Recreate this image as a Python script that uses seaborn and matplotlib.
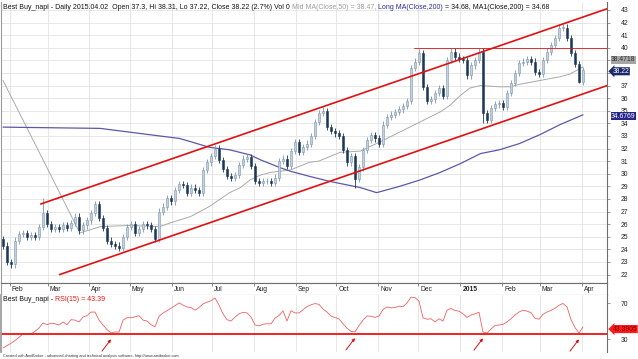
import pandas as pd
import numpy as np
import matplotlib
matplotlib.use('Agg')
import matplotlib.pyplot as plt
import seaborn as sns

# Best Buy daily chart, one candle per ~2 sessions (Jan 27 2014 -> Apr 2 2015)
close = [24.3, 23.0, 22.8, 24.7, 25.2, 25.3, 25.0, 25.1, 25.0, 25.8,
         26.9, 26.0, 25.6, 25.8, 25.6, 25.9, 25.7, 26.1, 26.6, 25.5,
         25.9, 26.3, 26.9, 27.6, 26.5, 25.7, 24.7, 24.4, 24.3, 24.1,
         25.0, 25.8, 26.0, 25.3, 25.6, 26.0, 25.9, 25.6, 24.8, 27.0,
         27.4, 28.1, 27.8, 28.7, 29.2, 29.1, 28.5, 28.9, 28.7, 28.5,
         30.3, 30.9, 31.4, 32.0, 31.1, 30.4, 29.8, 29.7, 29.9, 30.7,
         31.2, 31.3, 30.6, 29.4, 29.3, 29.4, 29.4, 29.3, 29.7, 31.0,
         31.2, 30.6, 31.8, 32.5, 31.7, 32.1, 32.4, 33.0, 34.1, 34.8,
         35.0, 33.7, 33.4, 33.2, 33.0, 31.9, 30.9, 31.4, 29.6, 30.5,
         31.9, 32.7, 33.1, 32.8, 32.4, 33.9, 34.5, 34.7, 34.9, 35.1,
         35.4, 35.8, 38.4, 38.9, 39.6, 36.9, 35.8, 35.9, 36.4, 36.8,
         36.2, 39.0, 39.7, 39.3, 39.1, 39.0, 37.8, 38.6, 39.0, 39.7,
         34.8, 34.3, 35.2, 35.5, 35.6, 35.3, 36.4, 37.2, 38.0, 38.8,
         38.9, 39.1, 38.9, 38.1, 37.9, 39.0, 39.7, 40.2, 40.8, 41.6,
         41.6, 40.8, 39.6, 38.7, 37.3, 38.22]
first_open = 24.8
spike_high = {10: 28.1, 80: 35.3, 104: 39.9, 112: 40.0, 140: 41.9}
spike_low = {88: 28.9, 120: 34.0, 144: 37.22}

rsi = [20.0, 22.6, 25.3, 28.3, 31.9, 35.6, 35.6, 35.8, 38.5, 42.3,
       47.8, 46.0, 47.6, 47.0, 45.5, 49.0, 46.0, 51.5, 51.0, 49.0,
       54.4, 56.0, 59.9, 60.0, 51.0, 45.6, 40.5, 36.7, 37.8, 37.8,
       51.0, 53.7, 53.7, 54.7, 56.0, 51.0, 50.0, 46.0, 43.5, 55.3,
       58.9, 61.5, 64.3, 67.0, 70.2, 67.7, 65.6, 65.0, 62.0, 65.0,
       69.0, 71.0, 72.5, 75.6, 67.6, 58.0, 51.5, 50.0, 54.4, 58.0,
       59.6, 59.0, 54.5, 45.6, 44.6, 46.4, 47.0, 46.8, 53.3, 56.0,
       61.3, 50.0, 61.4, 59.0, 59.0, 62.6, 66.0, 68.0, 69.4, 68.5,
       63.3, 60.0, 55.5, 53.8, 52.4, 47.0, 42.0, 38.5, 38.0, 44.9,
       51.0, 55.6, 55.3, 54.0, 55.5, 62.7, 65.6, 64.6, 65.0, 66.5,
       66.0, 70.0, 76.5, 76.0, 72.0, 53.5, 52.0, 52.5, 49.0, 52.5,
       50.0, 62.0, 64.0, 61.6, 61.0, 58.0, 54.0, 56.7, 58.0, 59.7,
       37.8, 36.7, 41.0, 45.0, 45.6, 46.2, 49.0, 52.5, 56.7, 60.0,
       62.0, 61.0, 59.3, 53.0, 52.0, 57.4, 60.0, 61.8, 64.2, 67.4,
       69.5, 65.6, 51.6, 42.8, 36.7, 43.39]
rsi_level = 36
arrow_idx = [27, 88, 120, 144]

ma50_dates = ['2014-01-27', '2014-03-25', '2014-04-09', '2014-05-01', '2014-05-23',
              '2014-05-31', '2014-06-15', '2014-06-29', '2014-07-14', '2014-07-22',
              '2014-07-29', '2014-08-06', '2014-08-13', '2014-08-28', '2014-09-11',
              '2014-09-18', '2014-10-04', '2014-10-19', '2014-11-02', '2014-11-17',
              '2014-12-02', '2014-12-17', '2014-12-24', '2015-01-01', '2015-01-08',
              '2015-01-16', '2015-01-30', '2015-02-07', '2015-02-14', '2015-03-01',
              '2015-03-16', '2015-03-23', '2015-04-02']
ma50 = [37.4, 25.3, 25.8, 25.9, 25.8, 26.1, 26.6, 27.4, 28.5, 28.9,
        29.5, 29.9, 30.1, 30.3, 30.9, 31.0, 31.7, 31.8, 32.5, 33.3,
        34.1, 34.9, 35.4, 36.2, 36.8, 37.0, 36.9, 36.9, 37.1, 37.4,
        37.7, 37.9, 38.47]

ma200_dates = ['2014-01-27', '2014-04-09', '2014-05-01', '2014-05-23', '2014-06-07',
               '2014-06-29', '2014-07-14', '2014-07-29', '2014-08-06', '2014-08-20',
               '2014-08-28', '2014-09-11', '2014-09-26', '2014-10-19', '2014-10-31',
               '2014-11-17', '2014-12-02', '2014-12-17', '2015-01-01', '2015-01-16',
               '2015-01-30', '2015-02-14', '2015-03-01', '2015-03-16', '2015-04-02']
ma200 = [33.7, 33.6, 33.3, 33.0, 32.8, 32.1, 31.9, 31.5, 31.1, 30.5,
         30.2, 29.8, 29.4, 28.9, 28.5, 29.0, 29.5, 30.1, 30.8, 31.6,
         31.9, 32.4, 33.1, 33.9, 34.68]

# trend channel + resistance
upper_dates, upper_vals = ['2014-02-24', '2015-04-20'], [27.6, 43.1]
lower_dates, lower_vals = ['2014-03-10', '2015-04-20'], [22.0, 37.0]
resist_dates, resist_vals = ['2014-11-28', '2015-04-20'], [40.0, 40.0]

# price ticks hidden behind the value flags on the right edge
covered_ticks = [38, 39]

dates = pd.date_range('2014-01-27', '2015-04-02', periods=len(close))
months = pd.date_range('2014-02-01', '2015-04-01', freq='MS')
month_labels = [('2015' if m.month == 1 else m.strftime('%b')) for m in months]

opens = [first_open] + close[:-1]
df = pd.DataFrame({'date': dates, 'open': opens, 'close': close, 'rsi': rsi})
df['up'] = df['close'] >= df['open']
df['high'] = df[['open', 'close']].max(axis=1) + 0.25
df['low'] = df[['open', 'close']].min(axis=1) - 0.25
for k, v in spike_high.items():
    df.loc[k, 'high'] = v
for k, v in spike_low.items():
    df.loc[k, 'low'] = v

sns.set_theme(style='white')
plt.rcParams['font.family'] = ['Liberation Sans', 'DejaVu Sans']

W, H = 638, 359
fig = plt.figure(figsize=(W / 100, H / 100), dpi=100)
fig.patch.set_facecolor('white')

def box(x0, y0, x1, y1):
    return [x0 / W, 1 - y1 / H, (x1 - x0) / W, (y1 - y0) / H]

ax = fig.add_axes(box(1, 2, 607, 283))
ax_d = fig.add_axes(box(1, 283, 607, 295), sharex=ax)
ax_r = fig.add_axes(box(1, 295, 607, 352), sharex=ax)

x0 = pd.Timestamp('2014-01-27') - pd.Timedelta(days=1.5)
x1 = pd.Timestamp('2015-04-02') + pd.Timedelta(days=17.8)

up_c, up_e, dn_c = '#c3d1df', '#7d96b0', '#1c3858'
grid_c = '#e3e3e3'
spine_c = '#6e6e6e'
fs = 4.9

# ---- price panel
cols = np.where(df['up'], up_e, dn_c)
ax.vlines(df['date'], df['low'], df['high'], colors=cols, lw=0.6, zorder=3)
body = (df['close'] - df['open']).abs().clip(lower=0.06)
bottom = df[['open', 'close']].min(axis=1)
ax.bar(df['date'], body, bottom=bottom, width=1.7,
       color=np.where(df['up'], up_c, dn_c), edgecolor=cols, linewidth=0.4, zorder=4)

sns.lineplot(x=pd.to_datetime(ma50_dates), y=ma50, ax=ax, color='#a9a9a9', lw=0.7, zorder=2)
sns.lineplot(x=pd.to_datetime(ma200_dates), y=ma200, ax=ax, color='#5b58a8', lw=0.9, zorder=2)
ax.plot(pd.to_datetime(upper_dates), upper_vals, color='#e01010', lw=1.2, zorder=5)
ax.plot(pd.to_datetime(lower_dates), lower_vals, color='#e01010', lw=1.2, zorder=5)
ax.plot(pd.to_datetime(resist_dates), resist_vals, color='#e01010', lw=0.6, zorder=5)

ax.set_xlim(x0, x1)
ax.set_ylim(21.33, 43.63)
yt = list(range(22, 44))
ax.set_yticks(yt)
ax.set_yticklabels(['' if v in covered_ticks else str(v) for v in yt])
ax.set_xticks(months)
ax.grid(True, color=grid_c, lw=0.6)
ax.set_axisbelow(True)
ax.yaxis.tick_right()
ax.tick_params(axis='y', which='both', right=True, left=False, length=2.5, width=0.5,
               color=spine_c, pad=7.5, labelsize=fs, labelcolor='#222222')
ax.tick_params(axis='x', length=0, labelbottom=False)
ax.set_xlabel('')
ax.set_ylabel('')
ax.spines['top'].set_visible(False)
for s in ['left', 'right', 'bottom']:
    ax.spines[s].set_color(spine_c)
    ax.spines[s].set_linewidth(0.8)
ax.spines['left'].set_color('#9a9a9a')

lbl = dict(xycoords=('axes fraction', 'data'), textcoords='offset points',
           ha='left', va='center', fontsize=fs, annotation_clip=False, zorder=10)
ax.annotate('38.4718', xy=(1, ma50[-1]), xytext=(3, 5.2), color='#333333',
            bbox=dict(boxstyle='square,pad=0.08', fc='#a6a6a6', ec='none'), **lbl)
ax.annotate('38.22', xy=(1, close[-1]), xytext=(4, -0.8), color='white',
            bbox=dict(boxstyle='larrow,pad=0.08', fc='#18286a', ec='none'), **lbl)
ax.annotate('34.6769', xy=(1, ma200[-1]), xytext=(3, -1.2), color='white',
            bbox=dict(boxstyle='square,pad=0.08', fc='#26268a', ec='none'), **lbl)

# ---- date strip
ax_d.set_ylim(0, 1)
ax_d.set_yticks([])
ax_d.set_xticks(months)
ax_d.tick_params(axis='x', direction='in', length=2.5, width=0.5, color='#555555',
                 top=True, bottom=False, labelbottom=False)
for s in ax_d.spines.values():
    s.set_color(spine_c)
    s.set_linewidth(0.8)
ax_d.spines['left'].set_color('#9a9a9a')
for m, t in zip(months, month_labels):
    ax_d.annotate(t, xy=(m, 0.45), xytext=(1.5, 0), textcoords='offset points',
                  ha='left', va='center', fontsize=fs, color='#222222',
                  fontweight='bold' if t == '2015' else 'normal')

# ---- RSI panel
sns.lineplot(data=df, x='date', y='rsi', ax=ax_r, color='#f06060', lw=0.6)
ax_r.axhline(rsi_level, color='#ee1111', lw=1.3)
for k in arrow_idx:
    ax_r.annotate('', xy=(dates[k], rsi[k] - 7), xytext=(-6.5, -8.5),
                  textcoords='offset points',
                  arrowprops=dict(arrowstyle='-|>', color='#e01010', lw=0.7,
                                  mutation_scale=4, shrinkA=0, shrinkB=0))
ax_r.set_ylim(15.6, 78.9)
ax_r.set_yticks([30, 70])
ax_r.set_xticks(months)
ax_r.grid(True, axis='x', color=grid_c, lw=0.6)
ax_r.yaxis.tick_right()
ax_r.tick_params(axis='y', right=True, left=False, length=2.5, width=0.5, color=spine_c,
                 pad=7.5, labelsize=fs, labelcolor='#222222')
ax_r.tick_params(axis='x', length=0, labelbottom=False)
ax_r.set_xlabel('')
ax_r.set_ylabel('')
for s in ['top', 'bottom']:
    ax_r.spines[s].set_visible(False)
ax_r.spines['right'].set_color(spine_c)
ax_r.spines['right'].set_linewidth(0.8)
ax_r.spines['left'].set_color('#9a9a9a')
ax_r.annotate('43.3905', xy=(1, rsi[-1]), xytext=(4, -1.5), color='#7a0000',
              bbox=dict(boxstyle='larrow,pad=0.08', fc='#ff1a1a', ec='none'), **lbl)
ax_r.set_xlim(x0, x1)


# ---- titles: coloured pieces chained one after another
def chain_text(parts, x, y, size):
    prev = fig.text(x, y, parts[0][0], color=parts[0][1], fontsize=size, va='bottom')
    for s, c in parts[1:]:
        prev = fig.add_artist(matplotlib.text.Annotation(
            s, xy=(1, 0), xycoords=prev, color=c, fontsize=size, va='bottom'))


chain_text([('Best Buy_napi - Daily 2015.04.02  Open 37.3, Hi 38.31, Lo 37.22, '
             'Close 38.22 (2.7%) Vol 0 ', '#111111'),
            ('Mid MA(Close,50) = 38.47, ', '#9d9d9d'),
            ('Long MA(Close,200)', '#2b2b9a'),
            (' = 34.68, MA1(Close,200) = 34.68', '#111111')],
           3 / W, 1 - 11 / H, 5.0)
chain_text([('Best Buy_napi - ', '#111111'), ('RSI(15) = 43.39', '#ee1111')],
           3 / W, 1 - 303 / H, 5.0)
fig.text(3 / W, 1 - 358 / H,
         'Created with AmiBroker - advanced charting and technical analysis software. '
         'http://www.amibroker.com', fontsize=2.8, color='#333333', va='bottom')

fig.savefig('out.png', dpi=100, facecolor='white')
